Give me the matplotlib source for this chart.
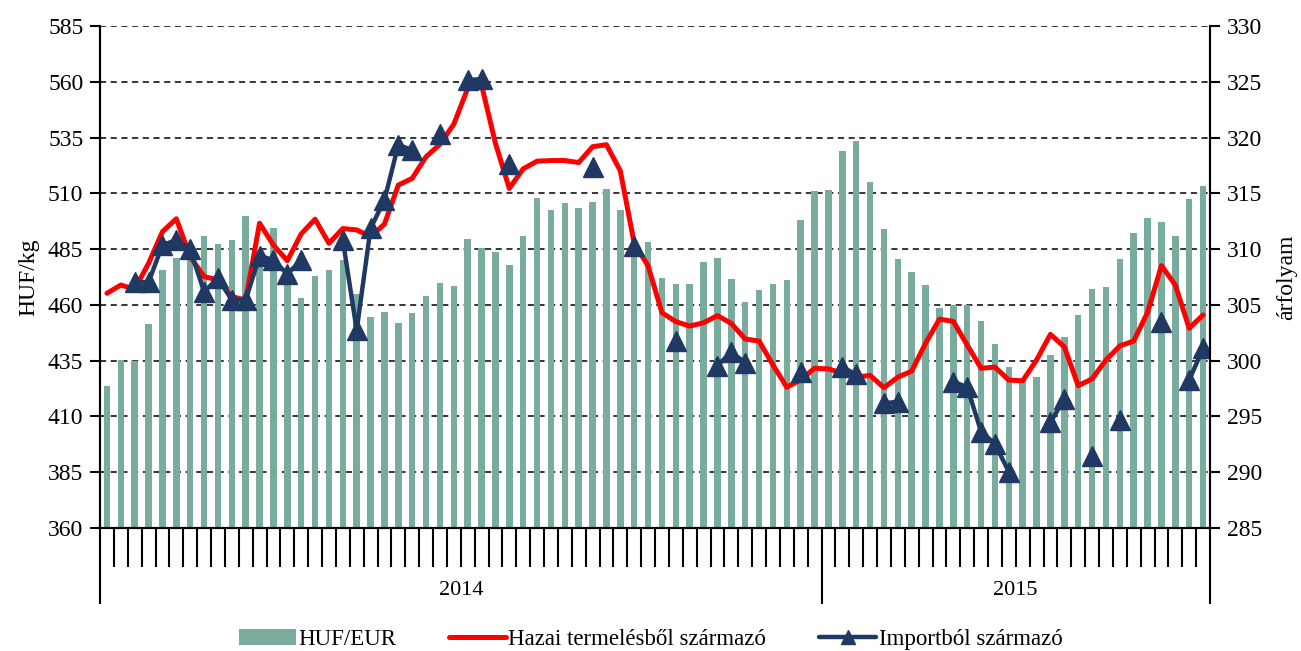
import matplotlib
matplotlib.use("Agg")
import matplotlib.pyplot as plt
import matplotlib.transforms as mtransforms
from matplotlib.patches import Patch
from matplotlib.lines import Line2D
import numpy as np

plt.rcParams['font.family'] = ['Liberation Serif', 'DejaVu Serif']
plt.rcParams['font.size'] = 17

nan = np.nan

# weekly data, 52 weeks of 2014 + 28 weeks of 2015
years = ['2014', '2015']
weeks_per_year = [52, 28]

huf_eur = [297.7, 300.1, 300.0, 303.3, 308.1, 309.2, 309.5, 311.2, 310.5, 310.8,
           313.0, 308.5, 311.9, 307.0, 305.6, 307.6, 308.1, 309.0, 306.0, 303.9,
           304.35, 303.35, 304.3, 305.8, 307.0, 306.7, 310.9, 310.1, 309.7, 308.6,
           311.2, 314.6, 313.5, 314.1, 313.7, 314.25, 315.4, 313.5, 310.3, 310.6,
           307.4, 306.9, 306.9, 308.8, 309.2, 307.3, 305.3, 306.3, 306.85, 307.2,
           312.6, 315.2, 315.3, 318.8, 319.7, 316.0, 311.8, 309.1, 307.95, 306.8,
           304.7, 305.0, 305.0, 303.6, 301.5, 299.4, 298.3, 298.5, 300.5, 302.1,
           304.1, 306.4, 306.6, 309.1, 311.4, 312.8, 312.4, 311.2, 314.5, 315.7]

hazai = [465.2, 468.9, 467.0, 478.6, 492.8, 498.6, 481.6, 472.7, 471.2, 463.7,
         462.2, 496.6, 486.8, 479.8, 491.8, 498.4, 487.6, 494.2, 493.6, 490.6,
         496.2, 513.7, 516.7, 526.4, 532.0, 541.0, 557.0, 558.5, 532.4, 512.2,
         521.0, 524.4, 524.7, 524.7, 523.8, 530.9, 531.8, 520.1, 487.6, 477.5,
         456.5, 452.5, 450.5, 452.0, 455.2, 451.7, 444.7, 443.8, 433.1, 423.1,
         426.4, 431.6, 431.3, 429.4, 427.6, 428.4, 422.9, 427.6, 430.3, 442.8,
         453.6, 452.6, 442.0, 431.6, 432.1, 426.3, 426.0, 435.3, 446.8, 441.2,
         423.8, 426.8, 435.3, 441.6, 443.8, 456.6, 477.6, 468.9, 449.5, 455.5]

importbol = [nan, nan, 470.2, 470.2, 486.8, 489.1, 484.9, 465.9, 471.9, 462.2,
             462.2, 482.0, 480.1, 473.8, 480.1, nan, nan, 489.1, 448.7, 494.3,
             507.0, 531.7, 529.4, nan, 536.6, nan, 560.8, 561.2, nan, 523.2,
             nan, nan, nan, nan, nan, 521.8, nan, nan, 486.2, nan,
             nan, 444.0, nan, nan, 432.8, 438.8, 434.1, nan, nan, nan,
             430.0, nan, nan, 432.1, 428.8, nan, 415.9, 416.6, nan, nan,
             nan, 425.6, 423.1, 403.2, 397.7, 385.2, nan, nan, 407.4, 417.8,
             nan, 392.3, nan, 408.4, nan, nan, 452.2, nan, 426.3, 440.5]

labels = ['HUF/EUR', 'Hazai termelésből származó', 'Importból származó']
bar_color = '#79ab9f'
red = '#ff0000'
navy = '#1f3864'

n = len(huf_eur)
x = np.arange(n)

fig = plt.figure(figsize=(13.01, 6.51), dpi=100)
ax = fig.add_axes([100/1301, 1 - 528/651, 1110/1301, 502/651])
ax2 = ax.twinx()

# bars on the right axis (behind)
ax2.bar(x, huf_eur, width=0.47, color=bar_color, zorder=2)
ax2.set_ylim(285, 330)
ax2.set_yticks(np.arange(285, 331, 5))
ax2.set_axisbelow(True)
ax2.yaxis.grid(True, linestyle=(0, (4, 3)), color='black', lw=1.1)
ax2.set_ylabel('árfolyam', labelpad=10)
ax2.tick_params(axis='y', direction='out', length=7, width=1.5, pad=5)

ax.set_zorder(ax2.get_zorder() + 1)
ax.patch.set_visible(False)
ax.plot(x, hazai, color=red, lw=3.6, solid_joinstyle='round', solid_capstyle='round')
ax.plot(x, importbol, color=navy, lw=3.2, marker='^', ms=14, solid_joinstyle='round')
ax.set_ylim(360, 585)
ax.set_yticks(np.arange(360, 586, 25))
ax.set_ylabel('HUF/kg', labelpad=6)
ax.tick_params(axis='y', direction='out', length=7, width=1.5, pad=5)

ax.set_xlim(-0.5, n - 0.5)
bounds = np.concatenate([[0], np.cumsum(weeks_per_year)]) - 0.5
ax.set_xticks(bounds)
ax.set_xticklabels([])
ax.set_xticks(np.arange(-0.5, n, 1), minor=True)
ax.tick_params(axis='x', which='major', length=55, width=1.5, direction='out')
ax.tick_params(axis='x', which='minor', length=28, width=1.5, direction='out')
ax2.tick_params(axis='x', which='both', length=0)

trans = mtransforms.blended_transform_factory(ax.transData, ax.transAxes)
for i, yr in enumerate(years):
    ax.text((bounds[i] + bounds[i + 1]) / 2, -0.125, yr, transform=trans,
            ha='center', va='center', fontsize=16)

for a in (ax, ax2):
    a.spines['top'].set_visible(False)
    for s in ('left', 'right', 'bottom'):
        a.spines[s].set_linewidth(1.5)

handles = [Patch(facecolor=bar_color, edgecolor='none'),
           Line2D([], [], color=red, lw=3.6, solid_capstyle='round'),
           Line2D([], [], color=navy, lw=3.2, marker='^', ms=10, solid_capstyle='round')]
fig.legend(handles, labels, loc='lower center', bbox_to_anchor=(0.5, -0.03), ncol=3,
           frameon=False, handlelength=2.5, handletextpad=0.1, columnspacing=2.3,
           fontsize=16.5)

fig.savefig('out.png', dpi=100)
